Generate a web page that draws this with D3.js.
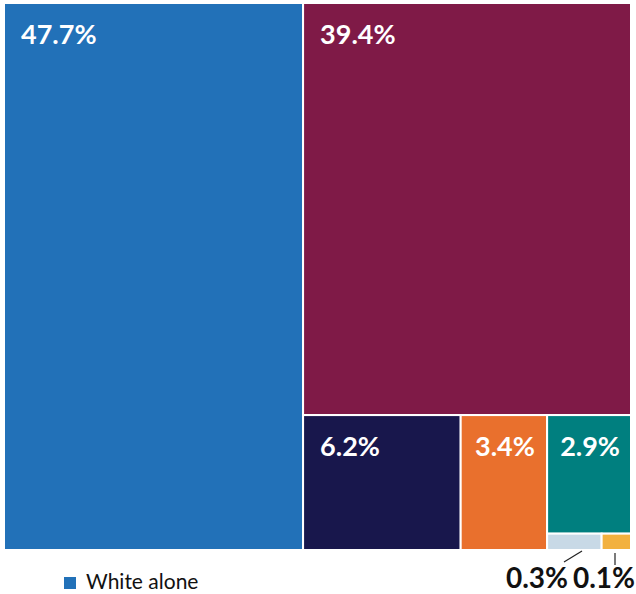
<!DOCTYPE html>
<html><head><meta charset="utf-8">
<script src="https://cdn.jsdelivr.net/npm/d3@7"></script>
<style>body{margin:0;background:#fff;} svg{display:block;font-family:"Source Sans Pro",Lato,"Open Sans",sans-serif;}</style>
</head><body>
<svg id="c" width="636" height="594"></svg>
<script>
const categories = ["White alone","Hispanic or Latino","Black or African American alone","Two or more races","Asian alone","Some other race alone","American Indian and Alaska Native alone"];
const values = [47.7, 39.4, 6.2, 3.4, 2.9, 0.26, 0.14];
const colors = ["#2271b8","#7f1a47","#18174c","#e9702d","#007f7f","#c8d9e6","#f2b13f"];
const legendItems = ["White alone"];

const svg = d3.select("#c");
const root = d3.hierarchy({children: categories.map((c,i)=>({name:c, value:values[i], color:colors[i]}))})
  .sum(d=>d.value||0);
d3.treemap().tile(d3.treemapSquarify.ratio(1)).size([627,547]).round(false)(root);

const g = svg.append("g").attr("transform","translate(4,3)");
const leaves = root.leaves();
g.selectAll("rect").data(leaves).join("rect")
  .attr("x",d=>d.x0).attr("y",d=>d.y0)
  .attr("width",d=>d.x1-d.x0).attr("height",d=>d.y1-d.y0)
  .attr("fill",d=>d.data.color).attr("stroke","#fff").attr("stroke-width",2);

const fmt = v => d3.format(".1f")(v)+"%";
const big = leaves.filter(d=>(d.y1-d.y0)>40);
big.forEach(d=>{
  const t = g.append("text").attr("y",d.y0+41).attr("fill","#fff")
    .attr("font-weight","bold").attr("font-size",27).text(fmt(d.data.value));
  const w = t.node().getComputedTextLength();
  const bw = d.x1-d.x0;
  if (bw >= w+34) t.attr("x",d.x0+17);
  else t.attr("x",(d.x0+d.x1)/2+1).attr("text-anchor","middle");
});
const small = leaves.filter(d=>(d.y1-d.y0)<=40);
const extPos = [{tx:537, lx1:564, ly1:562, lx2:582, ly2:551},{tx:604, lx1:615, ly1:565, lx2:615, ly2:553}];
small.forEach((d,i)=>{
  const p = extPos[i];
  g.append("line").attr("x1",p.lx1-4).attr("y1",p.ly1-3).attr("x2",p.lx2-4).attr("y2",p.ly2-3)
    .attr("stroke","#222").attr("stroke-width",1.2);
  g.append("text").attr("x",p.tx-4).attr("y",585).attr("text-anchor","middle")
    .attr("font-weight","bold").attr("font-size",28).attr("fill","#111").text(fmt(d.data.value));
});

const lg = svg.append("g").attr("transform","translate(64,577)");
legendItems.forEach((name,i)=>{
  lg.append("rect").attr("x",0).attr("y",0).attr("width",12).attr("height",12)
    .attr("fill",colors[categories.indexOf(name)]);
  lg.append("text").attr("x",22).attr("y",12).attr("font-size",21).attr("fill","#111").text(name);
});
</script>
</body></html>
